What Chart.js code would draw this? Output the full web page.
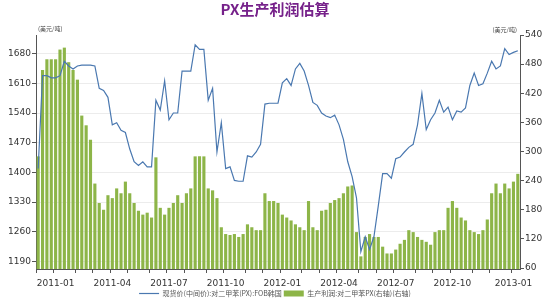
<!DOCTYPE html>
<html>
<head>
<meta charset="utf-8">
<script src="https://cdn.jsdelivr.net/npm/chart.js@4/dist/chart.umd.min.js"></script>
<style>
body{margin:0;background:#fff;}
#wrap{width:550px;height:300px;position:relative;}
</style>
</head>
<body>
<div id="wrap"><canvas id="c"></canvas></div>
<script>
// weekly data, first week starts 2010-12-06
var startDate = '2010-12-06';
var weekCount = 111;

// PX spot price, FOB Korea (USD/t), left axis
var pxPrice = [1409,1628,1628,1623,1623,1628,1662,1651,1644,1651,1653,1653,1653,1651,1598,1593,1577,1512,1517,1499,
  1494,1455,1425,1416,1425,1413,1413,1570,1547,1616,1524,1540,1540,1639,1639,1639,1701,1690,1690,1570,
  1598,1448,1517,1409,1413,1381,1379,1379,1439,1436,1448,1466,1561,1563,1563,1563,1611,1621,1605,1644,
  1657,1639,1605,1565,1558,1540,1533,1529,1535,1512,1478,1425,1390,1340,1213,1248,1218,1248,1321,1397,
  1397,1386,1432,1436,1448,1459,1466,1512,1586,1501,1524,1540,1570,1542,1554,1524,1545,1542,1552,1605,
  1634,1605,1609,1634,1662,1644,1651,1692,1678,1683,1687];

// production profit, PX (USD/t), right axis
var pxProfit = [290,468,490,490,490,510,514,484,468,448,374,354,324,234,194,180,210,204,224,214,
  238,214,194,178,170,174,164,288,184,170,184,194,210,194,214,224,290,290,290,224,
  220,204,144,130,128,130,124,130,150,144,138,138,214,198,198,194,170,164,158,150,
  144,138,198,144,138,178,180,194,200,204,214,228,230,134,84,124,130,124,124,104,
  90,90,98,110,118,138,134,124,118,114,108,134,138,138,184,198,184,164,158,138,
  134,130,138,160,214,234,214,234,224,238,254];

var xLabels = ['2011-01','2011-04','2011-07','2011-10','2012-01','2012-04','2012-07','2012-10','2013-01'];
var leftTicks = [1190,1260,1330,1400,1470,1540,1610,1680];
var rightTicks = [60,120,180,240,300,360,420,480,540];
var seriesNames = ['现货价(中间价):对二甲苯(PX):FOB韩国','生产利润:对二甲苯PX(右轴)(右轴)'];

var weeks = [];
var d0 = new Date(startDate + 'T00:00:00Z');
for (var i = 0; i < weekCount; i++) {
  var d = new Date(d0.getTime() + i * 7 * 86400000);
  weeks.push(d.toISOString().slice(0, 10));
}
function monthLabel(i) {
  var s = weeks[i];
  if (parseInt(s.slice(8, 10)) > 7) return '';
  var m = s.slice(0, 7);
  return xLabels.indexOf(m) >= 0 ? m : '';
}
function firstWeekOfMonth(i) {
  return weeks[i] && parseInt(weeks[i].slice(8, 10)) <= 7;
}

var cjk = '"Noto Sans CJK SC", "DejaVu Sans", sans-serif';
var num = '"DejaVu Sans", sans-serif';

var unitPlugin = {
  id: 'units',
  afterDraw: function(chart) {
    var ctx = chart.ctx, a = chart.chartArea;
    ctx.save();
    ctx.font = '6px ' + cjk;
    ctx.fillStyle = '#444';
    ctx.textBaseline = 'bottom';
    ctx.textAlign = 'left';
    ctx.fillText('(美元/吨)', a.left + 2, a.top - 3);
    ctx.textAlign = 'right';
    ctx.fillText('(美元/吨)', a.right - 3, a.top - 2);
    ctx.restore();
  }
};

new Chart(document.getElementById('c'), {
  data: {
    labels: weeks,
    datasets: [
      {
        type: 'line', label: seriesNames[0], data: pxPrice, yAxisID: 'yL',
        borderColor: '#4a78b0', borderWidth: 1.2, pointRadius: 0, tension: 0, order: 0,
        pointStyle: 'line', backgroundColor: '#4a78b0'
      },
      {
        type: 'bar', label: seriesNames[1], data: pxProfit, yAxisID: 'yR',
        backgroundColor: '#8db548', barPercentage: 0.72, categoryPercentage: 1, order: 1,
        pointStyle: 'rect'
      }
    ]
  },
  options: {
    responsive: true, maintainAspectRatio: false, animation: false,
    layout: { padding: { top: 0, left: 0, right: 0, bottom: -7 } },
    plugins: {
      title: {
        display: true, text: 'PX生产利润估算', color: '#76218a',
        font: { family: cjk, size: 15, weight: 'bold' }, padding: { top: 0, bottom: 17 }
      },
      legend: {
        position: 'bottom',
        labels: {
          usePointStyle: true, pointStyleWidth: 20, boxHeight: 6, padding: 2,
          color: '#555', font: { family: cjk, size: 7 }
        }
      },
      tooltip: { enabled: false }
    },
    scales: {
      x: {
        offset: true,
        afterFit: function(s) { s.height = 19; },
        grid: {
          drawOnChartArea: false, tickLength: 4,
          tickColor: function(c) { return firstWeekOfMonth(c.index) ? '#555' : 'rgba(0,0,0,0)'; }
        },
        border: { color: '#555' },
        ticks: {
          autoSkip: false, maxRotation: 0, padding: 5, color: '#333',
          font: { family: num, size: 9 },
          callback: function(v, i) { return monthLabel(i); }
        }
      },
      yL: {
        position: 'left', min: 1172, max: 1724,
        afterBuildTicks: function(s) { s.ticks = leftTicks.map(function(v) { return { value: v }; }); },
        afterFit: function(s) { s.width = 36; },
        grid: { color: '#ececec', tickColor: '#555', tickLength: 4 },
        border: { color: '#555' },
        ticks: { color: '#333', padding: 1, font: { family: num, size: 9 },
          callback: function(v) { return String(v); } }
      },
      yR: {
        position: 'right', min: 58, max: 540,
        afterBuildTicks: function(s) { s.ticks = rightTicks.map(function(v) { return { value: v }; }); },
        afterFit: function(s) { s.width = 30; },
        grid: { drawOnChartArea: false, tickColor: '#555', tickLength: 4 },
        border: { color: '#555' },
        ticks: { color: '#333', padding: 1, font: { family: num, size: 9 },
          callback: function(v) { return String(v); } }
      }
    }
  },
  plugins: [unitPlugin]
});
</script>
</body>
</html>
